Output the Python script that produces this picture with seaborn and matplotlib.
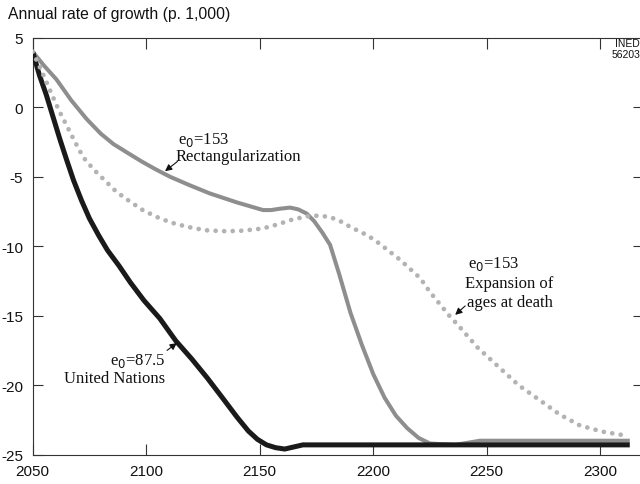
import matplotlib
matplotlib.use("Agg")
import matplotlib.pyplot as plt
import seaborn as sns
import pandas as pd

# ---- data ----
un_years = [2050, 2053, 2056, 2059, 2062, 2065, 2068, 2071.5, 2075, 2079, 2083, 2088,
            2093, 2099, 2106, 2113, 2120, 2127, 2134, 2140, 2145, 2149, 2153, 2157,
            2161, 2165, 2169, 2313]
un_rate = [4.0, 2.3, 0.9, -0.7, -2.3, -3.8, -5.25, -6.7, -8.0, -9.2, -10.3, -11.4,
           -12.6, -13.9, -15.2, -16.8, -18.1, -19.5, -21.0, -22.3, -23.3, -23.9, -24.3, -24.5,
           -24.6, -24.45, -24.3, -24.3]

rect_years = [2050, 2055, 2060.5, 2067, 2073.8, 2080, 2085.6, 2092, 2098, 2104, 2110.5,
              2119, 2128, 2140, 2151.5, 2155, 2159, 2163.4, 2167, 2170.7, 2174, 2177.5,
              2181, 2185, 2190, 2195, 2200, 2205, 2210, 2215, 2220, 2225, 2236, 2247, 2313]
rect_rate = [4.0, 3.0, 2.0, 0.5, -0.85, -1.9, -2.65, -3.3, -3.9, -4.45, -5.0,
             -5.6, -6.2, -6.85, -7.4, -7.4, -7.3, -7.22, -7.35, -7.65, -8.2, -9.0,
             -9.9, -12.0, -14.8, -17.1, -19.2, -20.9, -22.2, -23.1, -23.8, -24.2, -24.3,
             -24.0, -24.0]

exp_years = [2050, 2054, 2057.7, 2061.5, 2065.7, 2069, 2072.3, 2077, 2082, 2087, 2093,
             2098.5, 2104.7, 2111, 2118, 2126, 2134, 2141, 2148.7, 2153, 2157.5, 2164,
             2170.7, 2176, 2181, 2185.5, 2189.8, 2193.5, 2197.2, 2201, 2205, 2212, 2216,
             2220.7, 2225, 2229.5, 2233.5, 2238, 2246, 2256, 2264, 2273.5, 2282, 2291,
             2301, 2312]
exp_rate = [4.0, 2.6, 1.2, -0.2, -1.55, -2.6, -3.6, -4.5, -5.3, -6.1, -6.8,
            -7.4, -7.9, -8.3, -8.6, -8.85, -8.92, -8.9, -8.78, -8.65, -8.45, -8.1,
            -7.85, -7.8, -7.9, -8.2, -8.6, -8.9, -9.2, -9.6, -10.1, -11.0, -11.6,
            -12.3, -13.3, -14.2, -15.0, -15.8, -17.3, -18.8, -20.0, -21.1, -22.1, -22.9,
            -23.35, -23.65]

x_ticks = [2050, 2100, 2150, 2200, 2250, 2300]
y_ticks = [5, 0, -5, -10, -15, -20, -25]

un_df = pd.DataFrame({"year": un_years, "rate": un_rate})
rect_df = pd.DataFrame({"year": rect_years, "rate": rect_rate})
exp_df = pd.DataFrame({"year": exp_years, "rate": exp_rate})

sns.set_style("white")
plt.rcParams["font.family"] = ["Liberation Sans", "DejaVu Sans"]

fig = plt.figure(figsize=(6.4, 4.85), dpi=100)
ax = fig.add_axes([0.051, 0.0606, 0.949, 0.8594])

sns.lineplot(data=rect_df, x="year", y="rate", ax=ax, color="#8e8e8e", lw=2.9,
             sort=False, estimator=None, zorder=2, solid_capstyle="butt",
             solid_joinstyle="round")
sns.lineplot(data=un_df, x="year", y="rate", ax=ax, color="#1a1a1a", lw=3.6,
             sort=False, estimator=None, zorder=3, solid_capstyle="butt",
             solid_joinstyle="round")
sns.lineplot(data=exp_df, x="year", y="rate", ax=ax, color="#b3b3b3", lw=3.4,
             sort=False, estimator=None, zorder=4, dash_capstyle="round",
             linestyle=(0, (0.01, 1.8)))

ax.set_xlim(2050, 2317.5)
ax.set_ylim(-25, 5)
ax.set_xticks(x_ticks)
ax.set_yticks(y_ticks)
ax.set_xticklabels([str(t) for t in x_ticks])
ax.set_yticklabels([str(t) for t in y_ticks])
ax.set_xlabel("")
ax.set_ylabel("")

for side in ["left", "top", "bottom"]:
    ax.spines[side].set_visible(True)
    ax.spines[side].set_color("#333333")
    ax.spines[side].set_linewidth(0.8)
ax.spines["right"].set_visible(False)

ax.tick_params(axis="x", which="major", direction="in", length=8, width=0.8,
               color="#333333", top=True, bottom=True, labelsize=11, pad=6.5,
               labelcolor="#111111")
ax.tick_params(axis="y", which="major", direction="in", length=7, width=0.8,
               color="#333333", left=True, right=False, labelsize=11, pad=7,
               labelcolor="#111111")

sec = ax.secondary_yaxis("right")
sec.set_yticks(y_ticks[1:-1])
sec.tick_params(direction="in", length=5, width=0.8, color="#333333", labelright=False)
sec.spines["right"].set_visible(False)

# titles
fig.text(8 / 640, 1 - 15 / 485, "Annual rate of growth (p. 1,000)", fontsize=11.3,
         ha="left", va="center", color="#111111")
fig.text(1.0, 1 - 44 / 485, "INED", fontsize=7.5, ha="right", va="center", color="#111111")
fig.text(1.0, 1 - 55 / 485, "56203", fontsize=7.5, ha="right", va="center", color="#111111")

serif = ["Liberation Serif", "DejaVu Serif"]
tkw = dict(fontsize=12, family=serif, color="#111111", va="center")

# Rectangularization
ax.text(2114.2, -2.27, r"e$_0$=153", ha="left", **tkw)
ax.text(2113.0, -3.51, "Rectangularization", ha="left", **tkw)
ax.annotate("", xy=(2108.3, -4.6), xytext=(2113.8, -3.9),
            arrowprops=dict(arrowstyle="-|>", color="#111111", lw=0.8,
                            mutation_scale=10, shrinkA=0, shrinkB=0))

# Expansion
ax.text(2241.9, -11.23, r"e$_0$=153", ha="left", **tkw)
ax.text(2240.5, -12.67, "Expansion of", ha="left", **tkw)
ax.text(2241.2, -13.98, "ages at death", ha="left", **tkw)
ax.annotate("", xy=(2236.1, -14.94), xytext=(2240.5, -14.3),
            arrowprops=dict(arrowstyle="-|>", color="#111111", lw=0.8,
                            mutation_scale=10, shrinkA=0, shrinkB=0))

# United Nations
ax.text(2108.3, -18.16, r"e$_0$=87.5", ha="right", **tkw)
ax.text(2108.3, -19.48, "United Nations", ha="right", **tkw)
ax.annotate("", xy=(2113.5, -16.97), xytext=(2109.2, -17.5),
            arrowprops=dict(arrowstyle="-|>", color="#111111", lw=0.8,
                            mutation_scale=10, shrinkA=0, shrinkB=0))

fig.savefig("out.png", dpi=100)
